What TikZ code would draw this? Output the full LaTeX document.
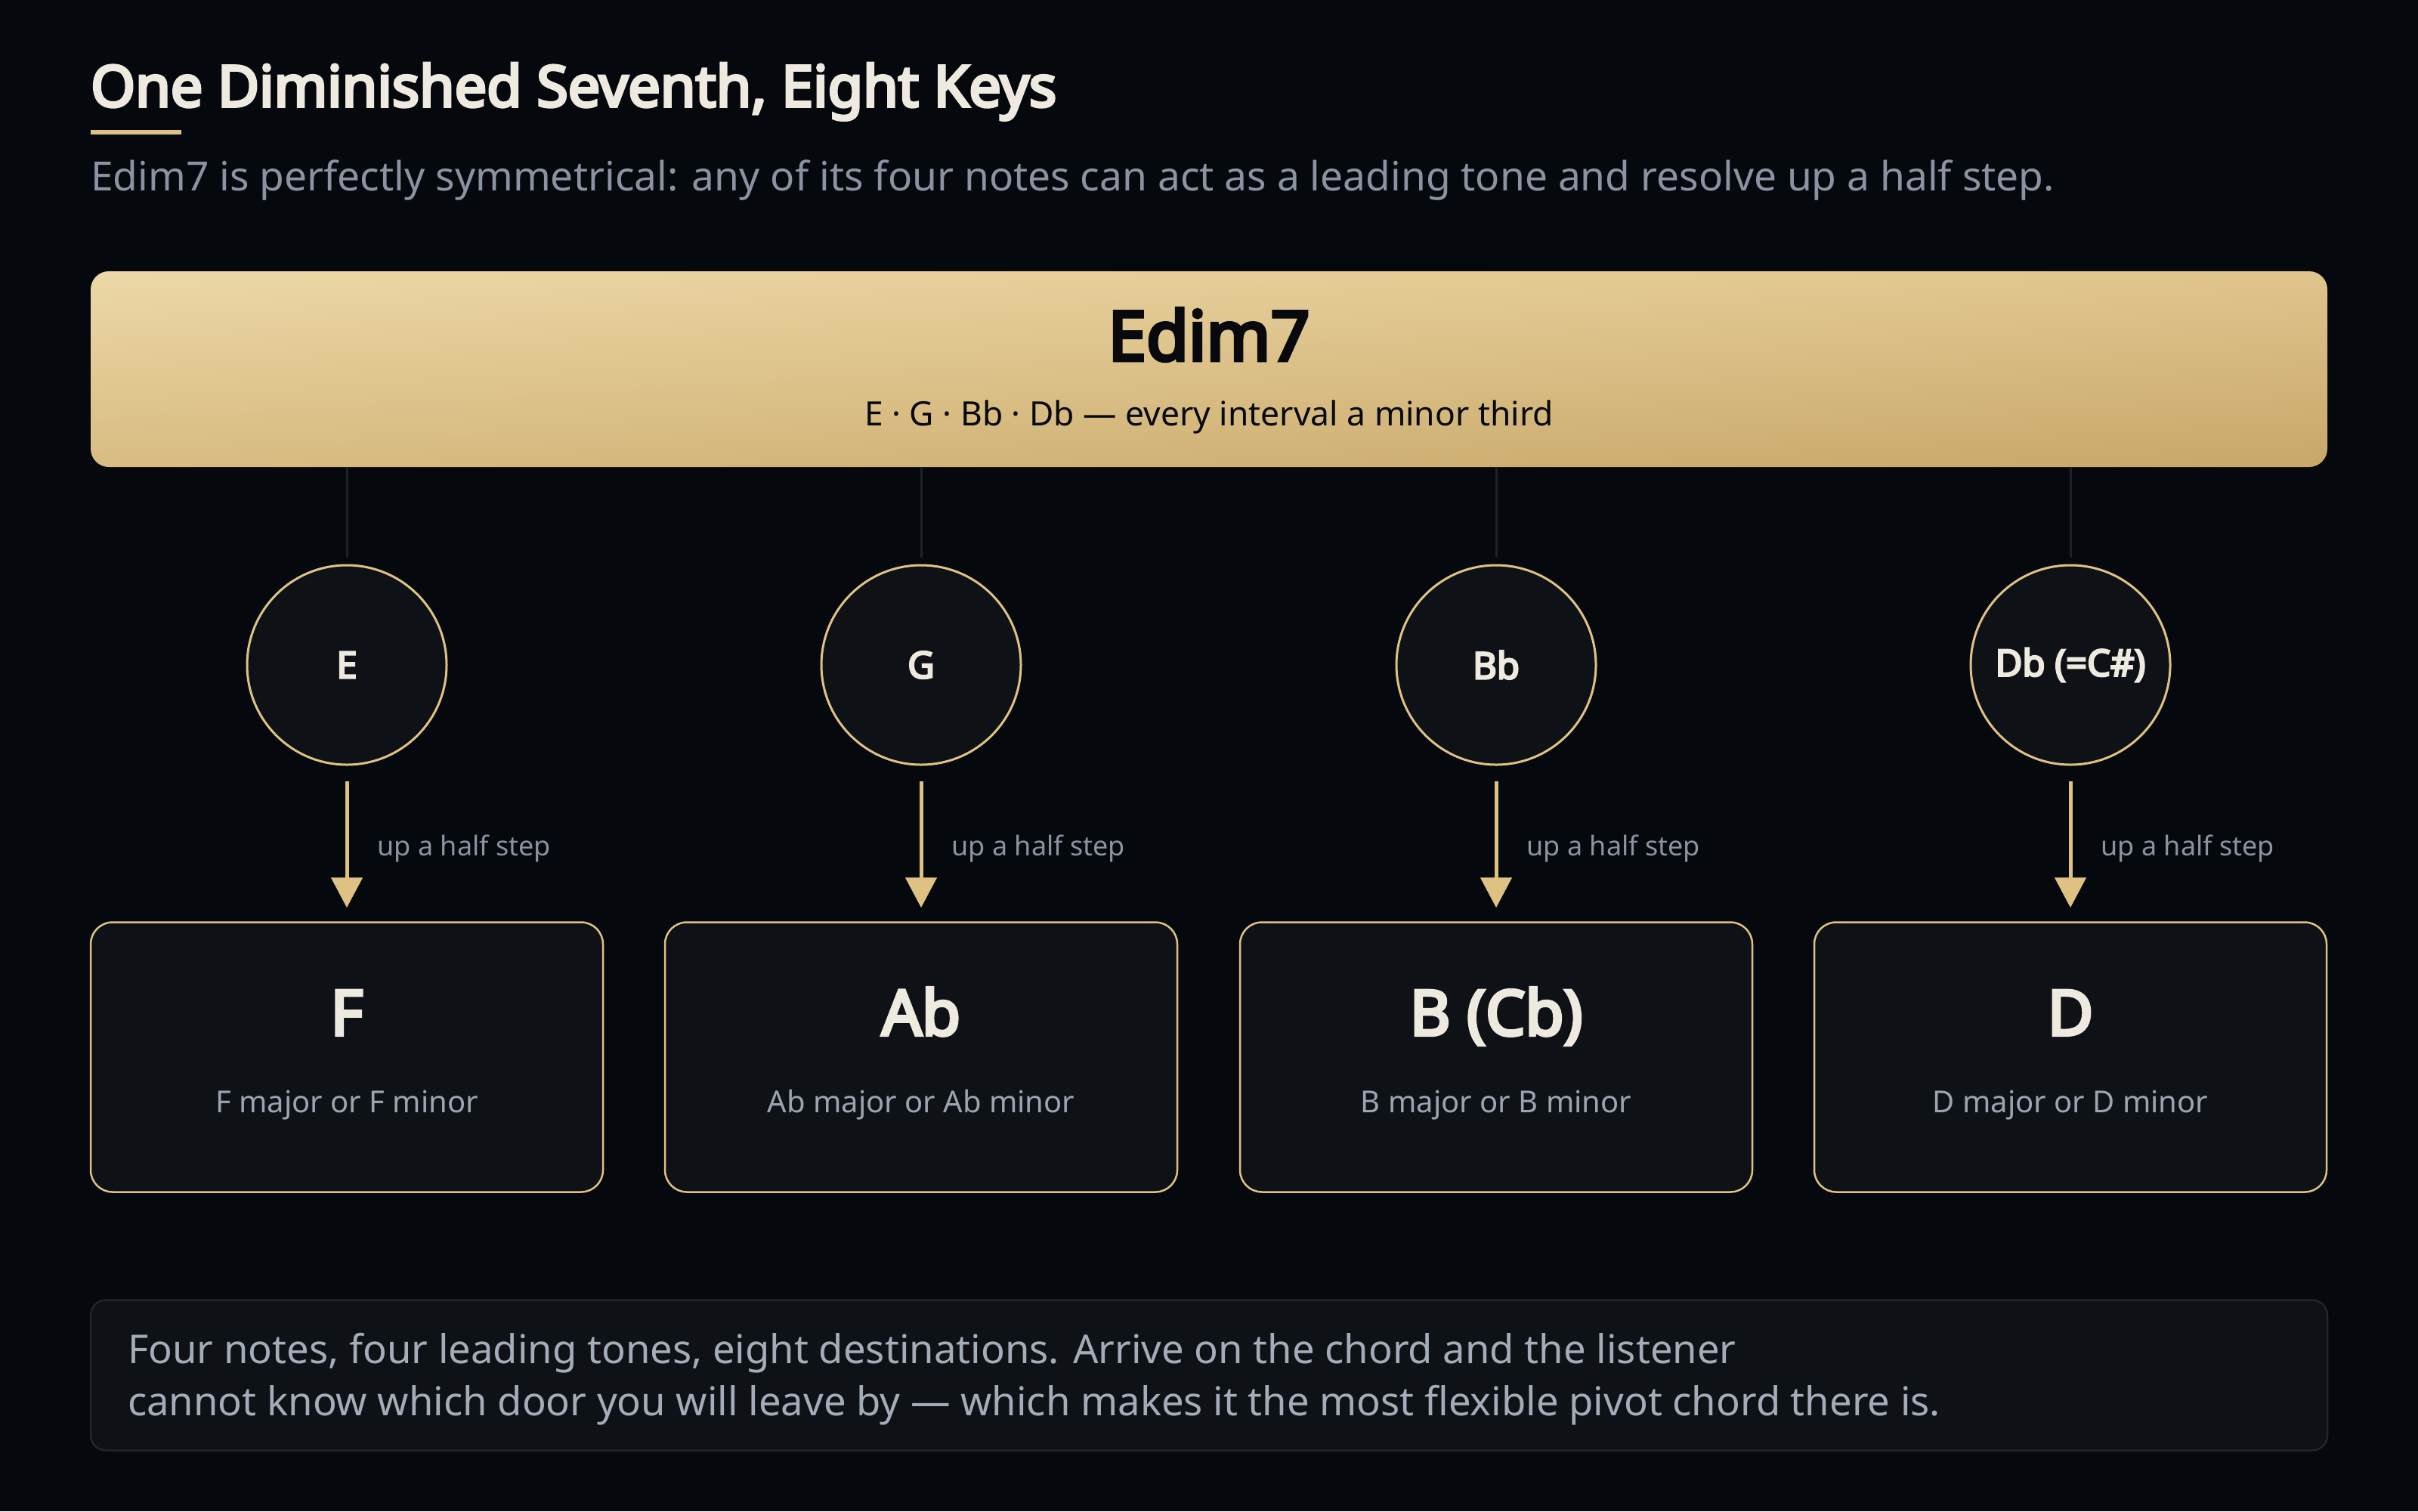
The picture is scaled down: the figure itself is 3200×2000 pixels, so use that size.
\documentclass[tikz,border=0pt]{standalone}
\usepackage{fontspec}
\setmainfont{Noto Sans}[AutoFakeBold=5]
\usetikzlibrary{arrows.meta,shadings}
\definecolor{bg}{HTML}{05080C}
\definecolor{panel}{HTML}{0E1115}
\definecolor{gold}{HTML}{DFC283}
\definecolor{cream}{HTML}{EEEAE0}
\definecolor{mgray}{HTML}{8B93A3}
\definecolor{sgray}{HTML}{9CA4B2}
\definecolor{ngray}{HTML}{A4ACB9}
\definecolor{stemc}{HTML}{1E2228}
\definecolor{notebd}{HTML}{22262C}
\definecolor{gUL}{HTML}{ECD8A8}
\definecolor{gUR}{HTML}{E0C48C}
\definecolor{gLL}{HTML}{D8BC82}
\definecolor{gLR}{HTML}{C8A86A}
\definecolor{ink}{HTML}{07090C}
\newcommand{\fs}[1]{\fontsize{#1}{#1}\selectfont}
\tikzset{
  topbox/.style={rounded corners=24pt, minimum width=2960pt, minimum height=259pt, inner sep=0pt,
    upper left=gUL, upper right=gUR, lower left=gLL, lower right=gLR, draw=none},
  notecirc/.style={circle, draw=gold, line width=3pt, fill=panel, minimum size=264pt, inner sep=0pt,
    text=cream, font=\fs{49}\bfseries},
  keybox/.style={rounded corners=29pt, draw=gold, line width=2.5pt, fill=panel, minimum width=678pt,
    minimum height=357pt, inner sep=0pt},
  notebox/.style={rounded corners=20pt, draw=notebd, line width=2.5pt, fill=panel, minimum width=2960pt,
    minimum height=199pt, inner sep=0pt},
  stemline/.style={draw=stemc, line width=3pt},
  resolve/.style={draw=gold, line width=5pt, -{Triangle[width=41pt,length=40pt]}},
  steplabel/.style={text=mgray, font=\fs{36}, inner sep=0pt},
  bigkey/.style={text=cream, font=\fs{83}\bfseries, inner sep=0pt, anchor=base},
  keysub/.style={text=sgray, font=\fs{40}, inner sep=0pt, anchor=base},
}
\begin{document}
\begin{tikzpicture}[x=1pt,y=-1pt]
\fill[bg] (0,0) rectangle (3200,2000);
\useasboundingbox (0,0) rectangle (3200,2000);
% title
\node[anchor=base west, inner sep=0pt, text=cream, font=\fs{75.5}\bfseries] (title) at (120,141) {One Diminished Seventh, Eight Keys};
\fill[gold] (120,172) rectangle (240,178);
\node[anchor=base west, inner sep=0pt, text=mgray, font=\fs{53.3}] (subtitle) at (120,252) {Edim7 is perfectly symmetrical: any of its four notes can act as a leading tone and resolve up a half step.};
% chord box
\node[topbox, shade] (chord) at (1600,488.5) {};
\node[anchor=base, inner sep=0pt, text=ink, font=\fs{91}\bfseries] (chordname) at (1600,477) {Edim7};
\node[anchor=base, inner sep=0pt, text=ink, font=\fs{44.4}] (chordnotes) at (1600,563) {E · G · Bb · Db — every interval a minor third};
% circles
\node[notecirc] (c1) at (459,880) {E};
\node[notecirc] (c2) at (1219,880) {G};
\node[notecirc] (c3) at (1980,880) {Bb};
\node[notecirc] (c4) at (2740,880) {Db (=C\#)};
% key boxes
\node[keybox] (b1) at (459,1399) {};
\node[keybox] (b2) at (1219,1399) {};
\node[keybox] (b3) at (1980,1399) {};
\node[keybox] (b4) at (2740,1399) {};
\foreach \i/\k/\s in {1/F/F major or F minor, 2/Ab/Ab major or Ab minor, 3/B (Cb)/B major or B minor, 4/D/D major or D minor}{
  \node[bigkey] (k\i) at ([yshift=29pt]b\i.center) {\k};
  \node[keysub] (s\i) at ([yshift=-73pt]b\i.center) {\s};
  \draw[stemline] (chord.south -| c\i.north) -- ([yshift=9pt]c\i.north);
  \draw[resolve] ([yshift=-20pt]c\i.south) -- ([yshift=18pt]b\i.north)
     node[steplabel, pos=0.59, anchor=base west, xshift=38pt] {up a half step};
}
% note
\node[notebox] (note) at (1600,1820) {};
\node[anchor=base west, inner sep=0pt, text=ngray, font=\fs{52.6}, align=left] (notetext1) at (169,1804) {Four notes, four leading tones, eight destinations. Arrive on the chord and the listener};
\node[anchor=base west, inner sep=0pt, text=ngray, font=\fs{52.6}, align=left] (notetext2) at (169,1873) {cannot know which door you will leave by — which makes it the most flexible pivot chord there is.};
\end{tikzpicture}
\end{document}
